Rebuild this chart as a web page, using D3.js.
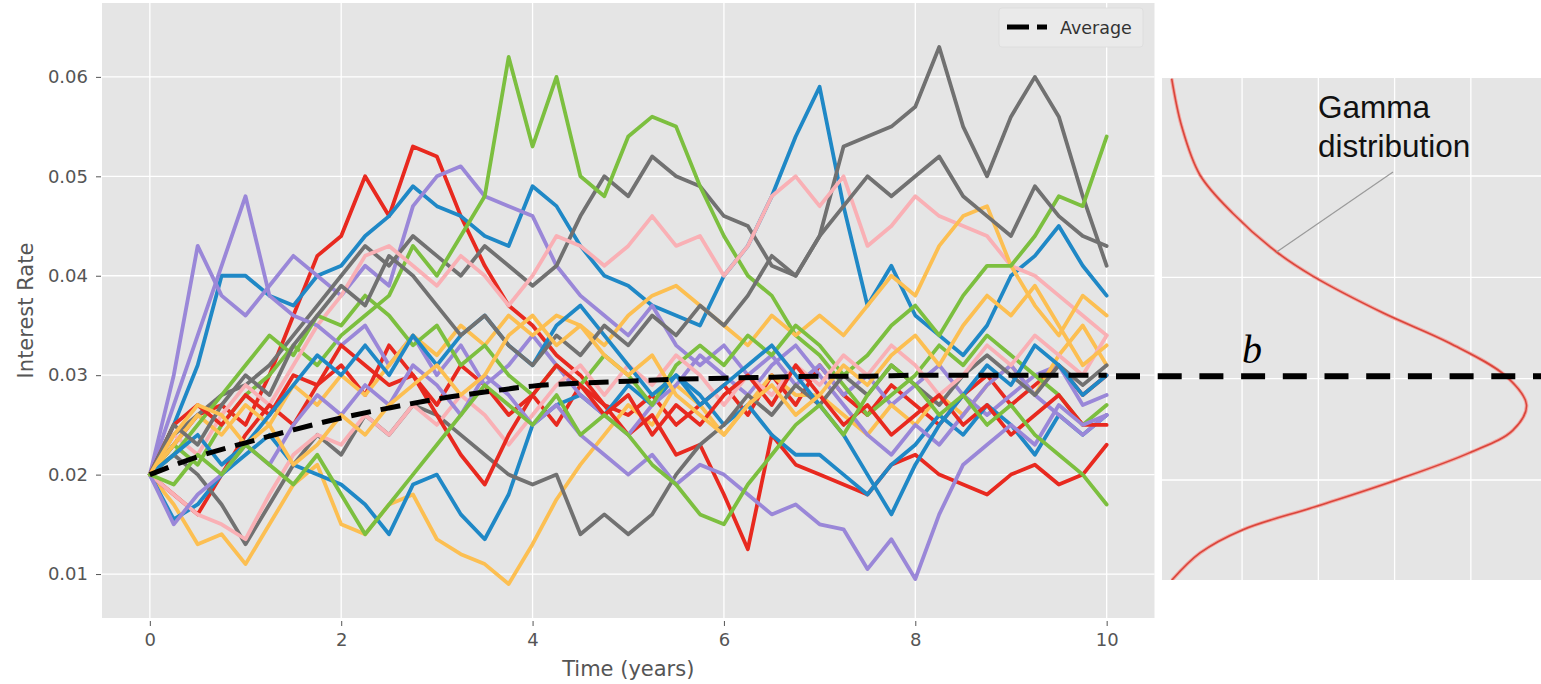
<!DOCTYPE html>
<html>
<head>
<meta charset="utf-8">
<script src="https://cdn.jsdelivr.net/npm/d3@7"></script>
<style>
  body { margin: 0; background: #ffffff; }
  svg { display: block; }
</style>
</head>
<body>
<svg id="chart" width="1541" height="684"></svg>
<script>
// Simulated short-rate paths, sampled every quarter year from 0 to 10
const timeGrid = d3.range(0, 10.0001, 0.25);

const redA = [.020,.023,.026,.027, .025,.030,.036,.042, .044,.050,.046,.053, .052,.046,.041,.037, .035,.032,.030,.027, .026,.028,.025,.027, .029,.026,.030,.027, .031,.028,.026,.029, .027,.025,.028,.030, .027,.029,.031,.028, .030];
const blueA = [.020,.025,.031,.040, .040,.038,.037,.040, .041,.044,.046,.049, .047,.046,.044,.043, .049,.047,.043,.040, .039,.037,.036,.035, .040,.043,.048,.054, .059,.047,.037,.041, .036,.034,.032,.035, .040,.042,.045,.041, .038];
const purpleA = [.020,.030,.043,.038, .036,.039,.042,.040, .038,.041,.039,.047, .050,.051,.048,.047, .046,.041,.038,.036, .034,.037,.033,.031, .033,.030,.032,.029, .031,.028,.030,.027, .029,.031,.028,.026, .028,.030,.031,.027, .028];
const grayA = [.020,.024,.026,.028, .029,.031,.034,.037, .040,.043,.041,.044, .042,.040,.043,.041, .039,.041,.046,.050, .048,.052,.050,.049, .046,.045,.041,.040, .044,.053,.054,.055, .057,.063,.055,.050, .056,.060,.056,.048, .041];
const yellowA = [.020,.017,.013,.014, .011,.015,.019,.021, .015,.014,.017,.018, .0135,.012,.011,.009, .013,.0175,.021,.024, .027,.025,.029,.027, .024,.027,.030,.028, .028,.026,.024,.027, .025,.028,.026,.029, .031,.028,.032,.035, .031];
const greenA = [.020,.023,.021,.025, .028,.030,.033,.031, .034,.036,.038,.043, .040,.044,.048,.062, .053,.060,.050,.048, .054,.056,.055,.049, .044,.040,.038,.034, .032,.029,.026,.028, .030,.033,.031,.034, .032,.030,.028,.025, .027];
const pinkA = [.020,.024,.022,.026, .029,.027,.031,.035, .038,.042,.043,.041, .039,.042,.040,.037, .040,.044,.043,.041, .043,.046,.043,.044, .040,.043,.048,.050, .047,.050,.043,.045, .048,.046,.045,.044, .041,.040,.038,.036, .034];
const redB = [.020,.018,.016,.020, .024,.027,.025,.029, .031,.028,.033,.030, .027,.031,.029,.026, .028,.025,.029,.027, .024,.026,.022,.023, .018,.0125,.024,.021, .020,.019,.018,.021, .022,.020,.019,.018, .020,.021,.019,.020, .023];
const blueB = [.020,.0155,.017,.020, .022,.024,.021,.020, .019,.017,.014,.019, .020,.016,.0135,.018, .025,.027,.028,.026, .029,.027,.030,.028, .025,.027,.024,.022, .022,.020,.018,.021, .023,.026,.024,.027, .025,.022,.026,.024, .026];
const purpleB = [.020,.027,.034,.041, .048,.038,.036,.035, .033,.035,.031,.034, .030,.033,.029,.031, .034,.031,.028,.026, .024,.027,.029,.032, .030,.028,.031,.033, .030,.027,.024,.022, .025,.023,.026,.029, .031,.028,.026,.024, .026];
const grayB = [.020,.022,.020,.017, .013,.017,.021,.024, .022,.026,.024,.027, .026,.024,.022,.020, .019,.020,.014,.016, .014,.016,.020,.023, .025,.028,.026,.029, .027,.030,.028,.031, .029,.027,.030,.032, .030,.028,.031,.029, .031];
const yellowB = [.020,.023,.026,.024, .027,.025,.029,.027, .030,.028,.031,.034, .032,.035,.033,.036, .034,.036,.035,.033, .036,.038,.039,.037, .035,.033,.036,.034, .036,.034,.037,.040, .038,.043,.046,.047, .041,.037,.034,.038, .036];
const greenB = [.020,.022,.025,.028, .031,.034,.032,.036, .035,.038,.036,.033, .035,.031,.033,.030, .028,.031,.029,.032, .030,.027,.031,.033, .031,.034,.032,.035, .033,.030,.032,.035, .037,.034,.038,.041, .041,.044,.048,.047, .054];
const pinkB = [.020,.018,.016,.015, .0135,.018,.022,.024, .023,.026,.024,.027, .025,.028,.026,.023, .026,.029,.031,.028, .031,.029,.032,.030, .027,.030,.028,.031, .029,.032,.030,.033, .031,.028,.030,.033, .031,.034,.032,.030, .034];
const redC = [.020,.025,.027,.025, .028,.026,.030,.029, .033,.031,.029,.030, .026,.022,.019,.024, .028,.031,.029,.026, .028,.024,.027,.025, .028,.030,.027,.031, .028,.025,.027,.024, .026,.028,.025,.027, .024,.026,.028,.025, .025];
const blueC = [.020,.022,.024,.021, .023,.026,.029,.032, .030,.033,.030,.034, .031,.034,.036,.033, .031,.035,.037,.034, .031,.028,.030,.027, .029,.031,.033,.030, .027,.024,.020,.016, .021,.025,.028,.031, .029,.033,.031,.028, .030];
const purpleC = [.020,.015,.018,.020, .023,.021,.025,.028, .026,.029,.027,.031, .029,.026,.030,.028, .025,.027,.024,.022, .020,.022,.019,.021, .020,.018,.016,.017, .015,.0145,.0105,.0135, .0095,.016,.021,.023, .025,.023,.027,.025, .026];
const grayC = [.020,.025,.023,.027, .030,.028,.033,.036, .039,.037,.042,.040, .037,.034,.036,.033, .031,.034,.032,.035, .033,.036,.034,.037, .035,.038,.042,.040, .044,.047,.050,.048, .050,.052,.048,.046, .044,.049,.046,.044, .043];
const yellowC = [.020,.024,.027,.026, .023,.025,.021,.023, .026,.024,.027,.029, .031,.028,.030,.034, .036,.033,.035,.032, .030,.032,.028,.026, .024,.027,.029,.026, .028,.031,.029,.032, .034,.031,.035,.038, .036,.039,.035,.031, .033];
const greenC = [.020,.019,.022,.020, .023,.021,.019,.022, .018,.014,.017,.020, .023,.026,.029,.027, .025,.028,.024,.026, .024,.021,.019,.016, .015,.019,.022,.025, .027,.024,.028,.031, .029,.026,.028,.025, .027,.024,.022,.020, .017];

// Plotting order (colour cycle repeats every seven paths)
const paths = [redA, blueA, purpleA, grayA, yellowA, greenA, pinkA,
               redB, blueB, purpleB, grayB, yellowB, greenB, pinkB,
               redC, blueC, purpleC, grayC, yellowC, greenC];
const colorCycle = ['#E8291F', '#1F88C6', '#9A87D8', '#717171', '#FCBF52', '#7CBF3F', '#F9B0B5'];

// Expected rate (average of the process)
const avgTime = [0, 0.5, 1, 1.5, 2, 2.5, 3, 3.5, 4, 4.5, 5, 5.5, 6, 6.5, 7, 7.5, 8, 8.5, 9, 9.5, 10];
const avgRate = [.0200, .0218, .0232, .0245, .0257, .0267, .0276, .0283, .0289, .0292, .0294, .0296, .0297, .0298, .0299, .0299, .0300, .0300, .0300, .0300, .0300];
const bLevel = 0.0299;

// Stationary (gamma) density, drawn sideways next to the paths
const gammaRate =    [.0596, .0549, .0501, .0463, .0425, .0401, .0365, .0335, .0302, .0274, .0249, .0227, .0200, .0174, .0151, .0128, .0101];
const gammaDensity = [0.77,  2.08,  4.48,  8.81,  14.53, 19.33, 28.46, 37.25, 44.68, 47.30, 45.50, 39.87, 30.26, 19.78, 10.12, 4.48,  0.77];

const xTicks = [0, 2, 4, 6, 8, 10];
const yTicks = [0.01, 0.02, 0.03, 0.04, 0.05, 0.06];
const densGrid = [10, 20, 30, 40];
const rateGrid = [0.05, 0.04, 0.03, 0.02];

const svg = d3.select('#chart');
const tickFont = '"DejaVu Sans", sans-serif';
const textGray = '#555555';

// ---------- main panel ----------
const x = d3.scaleLinear().domain([-0.5, 10.5]).range([102, 1154.5]);
const y = d3.scaleLinear().domain([0.00558, 0.06743]).range([618, 3]);

svg.append('rect')
  .attr('x', x(-0.5)).attr('y', y(0.06743))
  .attr('width', x(10.5) - x(-0.5)).attr('height', y(0.00558) - y(0.06743))
  .attr('fill', '#E5E5E5');

svg.append('defs').append('clipPath').attr('id', 'mainClip')
  .append('rect')
  .attr('x', x(-0.5)).attr('y', y(0.06743))
  .attr('width', x(10.5) - x(-0.5)).attr('height', y(0.00558) - y(0.06743));

const grid = svg.append('g').attr('stroke', '#ffffff').attr('stroke-width', 1.3);
grid.selectAll('.vx').data(xTicks).join('line')
  .attr('x1', d => x(d)).attr('x2', d => x(d))
  .attr('y1', y(0.06743)).attr('y2', y(0.00558));
grid.selectAll('.hy').data(yTicks).join('line')
  .attr('x1', x(-0.5)).attr('x2', x(10.5))
  .attr('y1', d => y(d)).attr('y2', d => y(d));

const pathLine = d3.line()
  .x((d, i) => x(timeGrid[i]))
  .y(d => y(d));

svg.append('g').attr('clip-path', 'url(#mainClip)')
  .selectAll('path').data(paths).join('path')
  .attr('d', d => pathLine(d))
  .attr('fill', 'none')
  .attr('stroke', (d, i) => colorCycle[i % colorCycle.length])
  .attr('stroke-width', 3.8)
  .attr('stroke-linejoin', 'round')
  .attr('stroke-linecap', 'round');

const avgLine = d3.line()
  .x((d, i) => x(avgTime[i]))
  .y(d => y(d))
  .curve(d3.curveMonotoneX);

svg.append('path')
  .attr('d', avgLine(avgRate))
  .attr('fill', 'none')
  .attr('stroke', '#000000')
  .attr('stroke-width', 5)
  .attr('stroke-dasharray', '20,10');

// axes
const xAxis = d3.axisBottom(x).tickValues(xTicks).tickFormat(d3.format('d'))
  .tickSize(5).tickSizeOuter(0).tickPadding(7);
const gx = svg.append('g').attr('transform', 'translate(0,621)').call(xAxis);
gx.select('.domain').remove();
gx.selectAll('line').attr('stroke', textGray);
gx.selectAll('text').attr('fill', textGray).style('font-family', tickFont).style('font-size', '18px');

const yAxis = d3.axisLeft(y).tickValues(yTicks).tickFormat(d3.format('.2f'))
  .tickSize(5).tickSizeOuter(0).tickPadding(8);
const gy = svg.append('g').attr('transform', 'translate(101,0)').call(yAxis);
gy.select('.domain').remove();
gy.selectAll('line').attr('stroke', textGray);
gy.selectAll('text').attr('fill', textGray).style('font-family', tickFont).style('font-size', '18px');

svg.append('text')
  .attr('x', (x(-0.5) + x(10.5)) / 2).attr('y', 676)
  .attr('text-anchor', 'middle')
  .style('font-family', tickFont).style('font-size', '21px')
  .attr('fill', textGray)
  .text('Time (years)');

svg.append('text')
  .attr('transform', `translate(33,${(y(0.06743) + y(0.00558)) / 2}) rotate(-90)`)
  .attr('text-anchor', 'middle')
  .style('font-family', tickFont).style('font-size', '21px')
  .attr('fill', textGray)
  .text('Interest Rate');

// legend
const legend = svg.append('g');
legend.append('rect')
  .attr('x', 999).attr('y', 8).attr('width', 144).attr('height', 39).attr('rx', 3)
  .attr('fill', '#EAEAEA').attr('stroke', '#DCDCDC').attr('stroke-width', 0.8);
legend.append('line')
  .attr('x1', 1007).attr('x2', 1047).attr('y1', 27).attr('y2', 27)
  .attr('stroke', '#000').attr('stroke-width', 5).attr('stroke-dasharray', '22,8');
legend.append('text')
  .attr('x', 1060).attr('y', 33.5)
  .style('font-family', tickFont).style('font-size', '17.5px')
  .attr('fill', '#333333')
  .text('Average');

// ---------- side panel: long-run distribution ----------
const dens = d3.scaleLinear().domain([-0.5, 49.2]).range([1162, 1541]);
const rateR = d3.scaleLinear().domain([0.05, 0.02]).range([176, 480]);
const sideTop = 78, sideBottom = 580;

svg.append('rect')
  .attr('x', dens(-0.5)).attr('y', sideTop)
  .attr('width', dens(49.2) - dens(-0.5)).attr('height', sideBottom - sideTop)
  .attr('fill', '#E5E5E5');

svg.select('defs').append('clipPath').attr('id', 'sideClip')
  .append('rect')
  .attr('x', dens(-0.5)).attr('y', sideTop)
  .attr('width', dens(49.2) - dens(-0.5)).attr('height', sideBottom - sideTop);

const sideGrid = svg.append('g').attr('stroke', '#ffffff').attr('stroke-width', 1.3);
sideGrid.selectAll('.vd').data(densGrid).join('line')
  .attr('x1', d => dens(d)).attr('x2', d => dens(d))
  .attr('y1', sideTop).attr('y2', sideBottom);
sideGrid.selectAll('.hr').data(rateGrid).join('line')
  .attr('x1', dens(-0.5)).attr('x2', dens(49.2))
  .attr('y1', d => rateR(d)).attr('y2', d => rateR(d));

const gammaPts = gammaRate.map((r, i) => ({ rate: r, density: gammaDensity[i] }));
const gammaLine = d3.line()
  .x(d => dens(d.density))
  .y(d => rateR(d.rate))
  .curve(d3.curveCatmullRom.alpha(0.5));

const gammaG = svg.append('g').attr('clip-path', 'url(#sideClip)');
gammaG.append('path')
  .attr('d', gammaLine(gammaPts))
  .attr('fill', 'none').attr('stroke', '#F2A7A2').attr('stroke-width', 3.6);
gammaG.append('path')
  .attr('d', gammaLine(gammaPts))
  .attr('fill', 'none').attr('stroke', '#D9453B').attr('stroke-width', 1.6);

// long-run level b carried across to the density
svg.append('line')
  .attr('x1', 1116).attr('x2', 1541)
  .attr('y1', y(bLevel)).attr('y2', y(bLevel))
  .attr('stroke', '#000').attr('stroke-width', 6)
  .attr('stroke-dasharray', '24,17.7');

svg.append('text')
  .attr('x', 1242).attr('y', 363)
  .style('font-family', '"Liberation Serif", "DejaVu Serif", serif')
  .style('font-style', 'italic')
  .style('font-size', '40px')
  .attr('fill', '#000')
  .text('b');

// annotation
const anchor = gammaPts[4];
svg.append('line')
  .attr('x1', 1393).attr('y1', 172)
  .attr('x2', dens(anchor.density)).attr('y2', rateR(anchor.rate))
  .attr('stroke', '#9A9A9A').attr('stroke-width', 1.2);
const ann = svg.append('text')
  .style('font-family', '"Liberation Sans", Arial, sans-serif')
  .style('font-size', '31.5px')
  .attr('fill', '#111111');
ann.append('tspan').attr('x', 1318).attr('y', 118).text('Gamma');
ann.append('tspan').attr('x', 1318).attr('y', 157).text('distribution');
</script>
</body>
</html>
